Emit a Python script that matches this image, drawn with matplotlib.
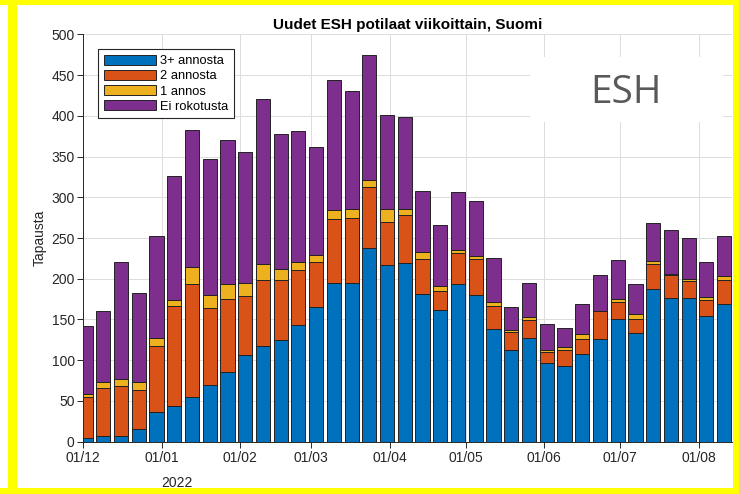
import numpy as np
import pandas as pd
import matplotlib
matplotlib.use('Agg')
import matplotlib.pyplot as plt
import matplotlib.dates as mdates
from matplotlib.patches import Rectangle

# viikot (keskipäivä = torstai)
first_week = '2021-12-02'
n_weeks = 37

# tapaukset per rokotusstatus
dose3 = [5, 7, 7, 16, 36, 44, 55, 70, 85, 107, 118, 125, 143, 165, 195, 195, 238, 217, 219,
         181, 162, 193, 180, 138, 112, 127, 97, 93, 108, 126, 150, 133, 187, 176, 176, 154, 169]
dose2 = [50, 59, 61, 47, 82, 122, 138, 94, 90, 72, 80, 73, 68, 56, 78, 80, 74, 53, 59,
         43, 23, 38, 44, 28, 23, 22, 13, 20, 18, 34, 21, 18, 31, 28, 21, 20, 30]
dose1 = [4, 7, 9, 10, 9, 8, 21, 16, 18, 16, 20, 14, 10, 8, 11, 11, 9, 15, 7,
         9, 6, 4, 4, 5, 2, 4, 2, 3, 6, 1, 4, 6, 4, 2, 3, 3, 4]
unvacc = [83, 87, 143, 110, 125, 152, 169, 167, 177, 160, 202, 166, 160, 133, 160, 144, 154, 116, 114,
          75, 75, 71, 68, 54, 28, 42, 32, 24, 37, 43, 48, 37, 47, 54, 50, 44, 49]

labels = ['3+ annosta', '2 annosta', '1 annos', 'Ei rokotusta']
colors = ['#0072BD', '#D95319', '#EDB120', '#7E2F8E']

plt.rcParams['font.family'] = ['Liberation Sans', 'DejaVu Sans']
axcol = '#262626'

weeks = pd.date_range(first_week, periods=n_weeks, freq='7D')
x = mdates.date2num(weeks.to_pydatetime())

fig = plt.figure(figsize=(7.39, 4.94), dpi=100)
ax = fig.add_axes([83 / 739, 1 - 441.7 / 494, 648.7 / 739, 407.4 / 494])

bottom = np.zeros(n_weeks)
for vals, lab, col in zip([dose3, dose2, dose1, unvacc], labels, colors):
    vals = np.array(vals, dtype=float)
    ax.bar(x, vals, width=5.6, bottom=bottom, color=col, edgecolor='#222222',
           linewidth=0.7, label=lab, zorder=2)
    bottom += vals

ax.set_ylim(0, 500)
ax.set_yticks(np.arange(0, 501, 50))
ax.set_xlim(mdates.date2num(pd.Timestamp('2021-12-01')), mdates.date2num(pd.Timestamp('2022-08-14')))
ax.xaxis.set_major_locator(mdates.MonthLocator(bymonthday=1))
ax.xaxis.set_major_formatter(mdates.DateFormatter('%d/%m'))

ax.grid(True, color='#dcdcdc', linewidth=0.7)
ax.set_axisbelow(True)
for s in ['top', 'right']:
    ax.spines[s].set_visible(False)
for s in ['left', 'bottom']:
    ax.spines[s].set_color(axcol)
    ax.spines[s].set_linewidth(0.7)
ax.tick_params(direction='out', length=4, width=0.7, colors=axcol, labelsize=10, pad=2)
ax.tick_params(axis='x', pad=3)

ax.set_ylabel('Tapausta', fontsize=10, color=axcol, labelpad=3)
ax.set_title('Uudet ESH potilaat viikoittain, Suomi', fontsize=11, fontweight='bold', pad=4)
fig.text(177 / 739, 1 - 483 / 494, '2022', ha='center', va='center', fontsize=10, color=axcol)

leg = ax.legend(loc='upper left', bbox_to_anchor=(0.0227, 0.963), borderaxespad=0,
                fontsize=9.3, handlelength=4.1, handleheight=0.75, labelspacing=0.22,
                handletextpad=0.3, borderpad=0.45, fancybox=False, framealpha=1)
leg.get_frame().set_edgecolor(axcol)
leg.get_frame().set_linewidth(0.8)

# ESH-laatikko
ax.add_patch(Rectangle((0.689, 0.785), 0.298, 0.16, transform=ax.transAxes,
                       facecolor='white', edgecolor='none', zorder=4))
ax.text(0.837, 0.856, 'ESH', transform=ax.transAxes, ha='center', va='center',
        fontsize=28, color='#595959', family='Open Sans', zorder=5)

# keltainen kehys
W, H = 739, 494
for (x0, y0, w, h) in [(8, 0, 9, H), (0, H - 5, W, 5), (0, 0, W, 6), (733, 0, 6, H)]:
    fig.add_artist(Rectangle((x0 / W, y0 / H), w / W, h / H, transform=fig.transFigure,
                             facecolor='#FFFF00', edgecolor='none', zorder=10))

fig.savefig('out.png', dpi=100)
